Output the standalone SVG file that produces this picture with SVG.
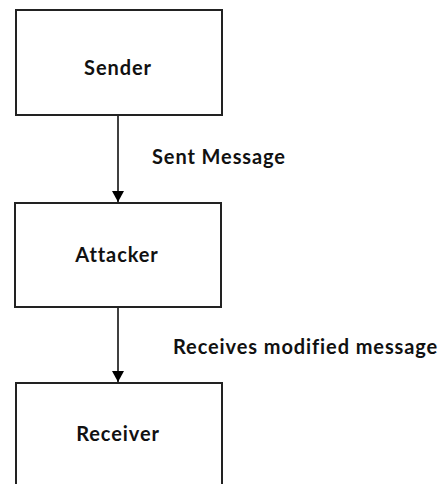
<svg xmlns="http://www.w3.org/2000/svg" width="447" height="484" viewBox="0 0 447 484">
<style>
.box{fill:#fff;stroke:#222;stroke-width:2}
.t{font-family:Lato,"Liberation Sans",sans-serif;font-weight:bold;font-size:20px;letter-spacing:0.9px;fill:#111;}
.c{stroke:#000;stroke-width:1.5;fill:none}
</style>
<defs>
<marker id="ah" markerUnits="userSpaceOnUse" markerWidth="12" markerHeight="14" refX="11" refY="6" orient="auto">
<path d="M0,0 L11,6 L0,12 z" fill="#000"/>
</marker>
</defs>
<rect width="447" height="484" fill="#fff"/>
<g id="connectors">
<line class="c" x1="118" y1="115" x2="118" y2="202" marker-end="url(#ah)"/>
<line class="c" x1="118" y1="307" x2="118" y2="382" marker-end="url(#ah)"/>
<text class="t" x="152" y="164">Sent Message</text>
<text class="t" x="173" y="354">Receives modified message</text>
</g>
<g id="sender">
<rect class="box" x="16" y="10" width="206" height="105"/>
<text class="t" x="118" y="75" text-anchor="middle">Sender</text>
</g>
<g id="attacker">
<rect class="box" x="15" y="203" width="206" height="104"/>
<text class="t" x="117" y="262" text-anchor="middle">Attacker</text>
</g>
<g id="receiver">
<rect class="box" x="16" y="383" width="206" height="110"/>
<text class="t" x="118" y="441" text-anchor="middle">Receiver</text>
</g>
</svg>
